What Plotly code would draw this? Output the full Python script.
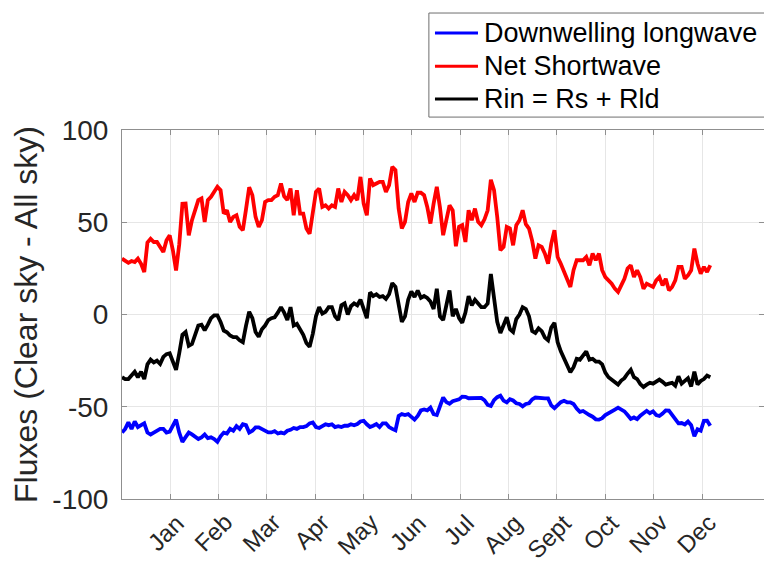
import numpy as np
import plotly.graph_objects as go

# Flux differences (clear sky minus all sky), sampled every 2 days
downwelling_lw = [
    -64, -62, -58.5, -62, -58, -61, -60, -59, -64, -65,
    -64, -63, -62, -62, -64, -63.5, -60, -57, -64, -69,
    -66.5, -64, -65, -66.6, -67.5, -66.6, -65, -67, -66.6, -67.5,
    -69, -66, -64, -64.5, -62, -63, -60.5, -62, -59.5, -60,
    -64, -63, -61.2, -61.2, -62, -63, -63.9, -63.9, -63.2, -64.5,
    -64, -64.5, -63, -62.5, -61.5, -62, -61, -61, -60.5, -59,
    -58.5, -61, -61.5, -60.5, -59.5, -60, -59.5, -61, -60.5, -61,
    -60.3, -60.3, -59.5, -60, -59.4, -58, -57.6, -59.5, -61, -60.3,
    -59.4, -61, -59, -59, -61, -62, -62.8, -55, -54, -54.5,
    -54, -55.5, -57, -55, -52, -51.5, -52,
    -50.5, -54, -54.5, -50.3, -45, -47.5, -48.4, -47, -46.7, -46,
    -44.5, -44.6, -45.4, -45.3, -45.3, -45.5, -45.2, -46.5, -49, -49.6,
    -46.4, -44.8, -44, -46.7, -47.6, -45.9, -46.6, -48.1, -48.5, -49.8,
    -48.5, -48.1, -46, -45, -45.3, -45.4, -45.5, -45.5, -49.3, -50.8,
    -49, -47.5, -46.8, -47.6, -47.6, -48.5, -51, -52.8, -52.3, -53.6,
    -54.5, -55.4, -56.8, -57, -56.2, -54.5, -53.3, -52.5, -51.5, -50.5,
    -51.4, -52.5, -54.5, -56.6, -55.8, -56.7, -54.8, -53.2, -52.2, -53.5,
    -52.5, -54.5, -55, -53.7, -52, -52.1, -54.5, -56.8, -59, -58.8,
    -59.6, -58, -60, -66, -62.2, -63, -57.6, -57.5, -60.3,
]

net_shortwave = [
    30.3, 29, 28, 29, 28.4, 30.3, 27.5, 23, 39, 41,
    39.3, 39.3, 36.6, 33.9, 40.2, 42.9, 34.8, 23.9, 38, 60,
    60.1, 42.9, 51.1, 57.4, 62, 62.9, 50.2, 62, 63.8, 66.5,
    69.2, 67.4, 54.7, 56.5, 50.2, 52.9, 53.8, 47.5, 45.7, 57,
    69, 64.7, 52.9, 47.5, 51.1, 61, 62, 62, 63.8, 64.7,
    71, 64, 62, 68.3, 53.8, 67.4, 54.7, 54.7, 46.6, 43.8,
    53.8, 66.5, 68.3, 58.3, 59.2, 57.4, 59.2, 58.3, 68.3, 61,
    66.5, 64.7, 62, 64.7, 62, 74.6, 60.1, 53.8, 73.7, 70.1,
    71, 71.9, 71.9, 66.5, 70.1, 80, 78.3, 57.4, 46.6, 50.2,
    61, 65.6, 61, 66, 66, 64.7, 58.3,
    49.3, 60.1, 69.2, 58, 43, 51.1, 59.2, 56.5, 37, 47.5,
    48.4, 39.3, 56.5, 51.1, 57.4, 50.2, 48.4, 51.6, 56.5, 73,
    67.4, 52.9, 34.8, 36.6, 47.5, 46.6, 37.5, 48.4, 51.1, 56.5,
    49, 46.6, 39.9, 30.3, 37.5, 36.6, 33, 27.5, 38.4, 45.7,
    31.2, 27.5, 23, 18.5, 14.9, 24, 29.4, 29.4, 29.4, 31.2,
    26.7, 33, 29.4, 33, 24, 20.3, 18.5, 16.7, 14, 12.2,
    15.8, 19.4, 24.9, 26.7, 20.3, 24, 20.3, 14, 16.7, 15.8,
    14.9, 18.5, 20.3, 15.8, 19.4, 13.1, 14.9, 18.5, 25.8, 25.8,
    19.4, 21.2, 24, 35.7, 27.5, 22.1, 25.8, 23, 26.7,
]

rin_total = [
    -34, -35, -35, -33, -31, -34, -31, -35, -27, -24.5,
    -26, -25, -26.8, -23, -21.5, -21, -25, -30, -21, -11,
    -9.5, -17, -16, -10.5, -6, -5.5, -8.5, -5.5, -2, -0.5,
    -0.5, -4, -8.7, -9.6, -11.4, -12.3, -12.3, -14, -15, -6,
    1.5, -2, -9.5, -12, -8, -6, -3, -2, -1.5, 1,
    4, 1, -3, 4, -6, -5, -7.8, -11, -15.5, -17.5,
    -10.5, -1, 4, 0.5, 1.5, 4, 4, -1, -3, 5,
    6, 0, 4.5, 6, 5, 8, 3, -2, 12, 10,
    11, 9.5, 10, 8.5, 11, 17, 15, 6, -4, -1,
    8, 12.5, 9.5, 13, 9, 10, 9,
    7, 3, 14, -1, -3, 5, 13, -1, 3, -2,
    -4.5, 1, 10, 5, 8, 6, 4, 4, 6, 22,
    10, -4, -10, -5, -1.5, -8, -9.5, -2.5, 0, 4,
    3, -1, -9, -10, -7.5, -9, -12.5, -14, -7, -4.5,
    -15, -20, -23.5, -27, -31.3, -28.6, -24, -24.5, -22, -20,
    -24.5, -24, -25.5, -25.5, -27, -31.5, -34, -35.5, -36.5, -38,
    -35.8, -34.5, -32, -30, -34, -35, -37.7, -39.3, -38, -37,
    -37.5, -36.5, -35.3, -36.5, -38, -37.5, -37, -38.6, -33.5, -37.5,
    -36, -34.5, -39, -31, -38, -36, -35, -33.1, -34,
]

month_labels = ["Jan", "Feb", "Mar", "Apr", "May", "Jun",
                "Jul", "Aug", "Sept", "Oct", "Nov", "Dec"]
y_ticks = [-100, -50, 0, 50, 100]

days = np.arange(len(net_shortwave)) * 2
month_pos = [30.2 + 30.42 * i for i in range(len(month_labels))]

series = [
    ("Downwelling longwave", downwelling_lw, "#0000ff"),
    ("Net Shortwave", net_shortwave, "#ff0000"),
    ("Rin = Rs + Rld", rin_total, "#000000"),
]

fig = go.Figure()
for name, vals, color in series:
    fig.add_trace(go.Scatter(
        x=days, y=vals, mode="lines", name=name, showlegend=False,
        line=dict(color=color, width=3.8),
    ))

axis_common = dict(
    showline=True, linecolor="#8f8f8f", linewidth=1, mirror="ticks",
    ticks="inside", ticklen=5, tickcolor="#8f8f8f",
    showgrid=True, gridcolor="#e6e6e6", gridwidth=1, zeroline=False,
)

# month labels: rotated text hanging below each tick
fig.update_xaxes(
    range=[0, 403.8], tickvals=month_pos, showticklabels=False,
    **axis_common,
)
for pos, lab in zip(month_pos, month_labels):
    fig.add_annotation(
        x=pos, y=0, xref="x", yref="paper", text=lab, showarrow=False,
        textangle=-45, xanchor="right", yanchor="top",
        xshift=22, yshift=-7,
        font=dict(size=24, color="#262626"),
    )

fig.update_yaxes(
    range=[-100, 100], tickvals=y_ticks, ticktext=[str(v) for v in y_ticks],
    tickfont=dict(size=28, color="#262626"), ticklabelstandoff=7,
    title=dict(text="Fluxes (Clear sky - All sky)",
               font=dict(size=32, color="#262626"), standoff=5),
    **axis_common,
)

# legend box drawn above the axes, running off the right edge
leg_left, leg_right, leg_top, leg_bottom = 0.478, 1.1, 1.317, 1.035
fig.add_shape(type="rect", xref="paper", yref="paper",
              x0=leg_left, x1=leg_right, y0=leg_bottom, y1=leg_top,
              line=dict(color="#6e6e6e", width=1), fillcolor="white")
row_y = [1.263, 1.173, 1.084]
for (name, _, color), ry in zip(series, row_y):
    fig.add_shape(type="line", xref="paper", yref="paper",
                  x0=0.4875, x1=0.5545, y0=ry, y1=ry,
                  line=dict(color=color, width=3))
    fig.add_annotation(x=0.5605, y=ry, xref="paper", yref="paper",
                       text=name, showarrow=False, xanchor="left",
                       yanchor="middle", font=dict(size=27, color="#000000"))

fig.update_layout(
    width=764, height=566,
    margin=dict(l=122, r=0, t=130, b=67, autoexpand=False),
    paper_bgcolor="white", plot_bgcolor="white",
    font=dict(family="Liberation Sans, Arial, sans-serif", color="#262626"),
    showlegend=False,
)

fig.write_html("out.html")
